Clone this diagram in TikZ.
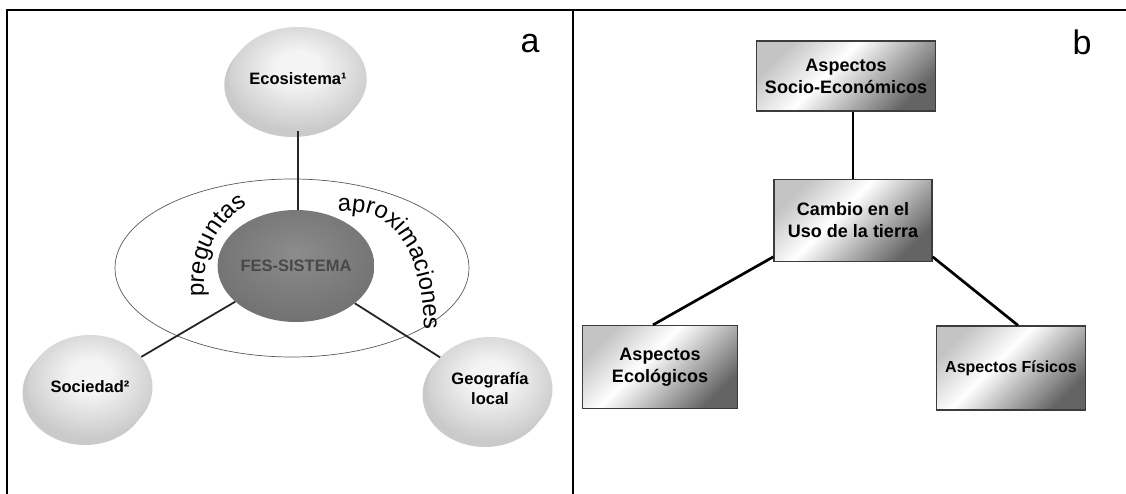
\documentclass[tikz,border=0pt]{standalone}
\usepackage{fontspec}
\setmainfont{Liberation Sans}
\usepackage{xcolor}
\definecolor{orbEdge}{HTML}{A6A6A6}
\definecolor{orbCore}{HTML}{F4F4F4}
\definecolor{orbShadow}{HTML}{CACACA}
\definecolor{hubEdge}{HTML}{5E5E5E}
\definecolor{hubCore}{HTML}{8C8C8C}
\definecolor{hubText}{HTML}{484848}
\definecolor{boxDark}{HTML}{646464}
\definecolor{boxLight}{HTML}{C4C4C4}
\definecolor{boxRim}{HTML}{3C3C3C}
\usepackage{tikz}
\usetikzlibrary{positioning,shapes.geometric,shadows,decorations.text}
\pgfdeclareradialshading{orbshade}{\pgfpoint{0bp}{6bp}}{color(0bp)=(orbCore); color(8bp)=(orbCore); color(46bp)=(orbEdge); color(72bp)=(orbEdge)}
\pgfdeclareradialshading{hubshade}{\pgfpoint{0bp}{6bp}}{color(0bp)=(hubCore); color(50bp)=(hubEdge); color(72bp)=(hubEdge)}
\pgfdeclareverticalshading{boxshade}{100bp}{color(0bp)=(boxDark); color(25bp)=(boxDark); color(56bp)=(white); color(75bp)=(boxLight); color(100bp)=(boxLight)}

\begin{document}
\begin{tikzpicture}[
  x=1pt,y=-1pt,
  orb/.style={ellipse,shade,shading=orbshade,inner sep=0pt,align=center,
              minimum width=125pt,minimum height=104pt,
              font=\bfseries\fontsize{16.5}{20}\selectfont,
              drop shadow={shadow xshift=-5pt,shadow yshift=-6pt,fill=orbShadow,opacity=1}},
  hub/.style={ellipse,shade,shading=hubshade,inner sep=0pt,
              minimum width=132pt,minimum height=112pt,text=hubText,
              font=\bfseries\fontsize{16.5}{20}\selectfont},
  ring/.style={ellipse,draw=black!65,line width=0.7pt,inner sep=0pt},
  aspect/.style={rectangle,draw=boxRim,line width=1.2pt,shade,shading=boxshade,
              shading angle=45,align=center,inner sep=0pt,
              font=\bfseries\fontsize{18}{22}\selectfont},
  link/.style={line width=1.8pt,black!85},
  bond/.style={line width=2.7pt,black},
  frame/.style={line width=2pt,black},
  tag/.style={font=\fontsize{34}{34}\selectfont,inner sep=0pt},
  arctext/.style={decorate,decoration={text along path,text align=center,
              text={|\fontsize{24}{24}\selectfont|#1}}}
]
\useasboundingbox (0,0) rectangle (1126,494);
\draw[frame] (7,494) -- (7,10) -- (1126,10);
\draw[frame] (573,10) -- (573,494);
\node[tag] (pa) at (530,44) {a};
\node[tag] (pb) at (1082,42) {b};

\node[ring, minimum width=354pt, minimum height=178pt] (field) at (292,268) {};
\node[orb] (eco) at (298,79) {Ecosistema¹};
\node[orb] (soc) at (90,387) {Sociedad²};
\node[orb] (geo) at (490,389) {Geografía\\local};
\node[hub] (fes) at (296,266) {FES-SISTEMA};

\draw[link] (eco.south) -- (eco.south |- fes.north);
\draw[link] (soc) -- (fes);
\draw[link] (geo) -- (fes);

\path[arctext=preguntas] (204,297) .. controls (202,255) and (215,225) .. (248,205);
\path[arctext=aproximaciones] (338,212) .. controls (388,206) and (422,240) .. (424,330);

\node[aspect, minimum width=179pt, minimum height=70pt] (socio) at (846,76) {Aspectos\\Socio-Económicos};
\node[aspect, minimum width=158pt, minimum height=82pt, below=67pt of socio, xshift=7pt] (uso)
  {Cambio en el\\Uso de la tierra};
\node[aspect, minimum width=155pt, minimum height=83pt] (ecol) at (660,367) {Aspectos\\Ecológicos};
\node[aspect, minimum width=149pt, minimum height=84pt, font=\bfseries\fontsize{16}{20}\selectfont] (fis)
  at (1011,368) {Aspectos Físicos};

\draw[bond] (uso.north) -- (uso.north |- socio.south);
\draw[bond] ([yshift=5pt]uso.south west) -- ([xshift=-7pt]ecol.north);
\draw[bond] ([yshift=5pt]uso.south east) -- ([xshift=7pt]fis.north);
\end{tikzpicture}
\end{document}
